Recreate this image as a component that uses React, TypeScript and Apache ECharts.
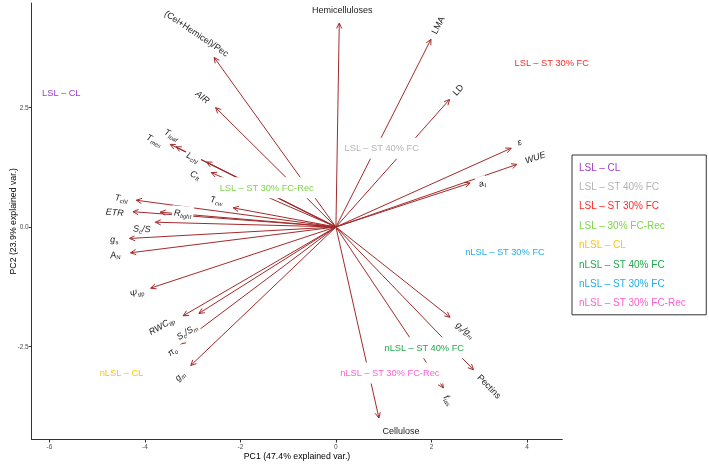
import React, { useEffect, useRef } from "react";
import * as echarts from "echarts";

const FONT = "'Liberation Sans', Arial, Helvetica, sans-serif";

// Variable loadings (arrow tips) in PC space
const VAR_NAMES = [
  "Hemicelluloses", "LMA", "LD", "ε", "WUE", "a_l", "g_s/g_m", "Pectins", "f_ias", "Cellulose",
  "g_m", "π_o", "S_c/S_m", "RWC_tlp", "Ψ_tlp", "A_N", "g_s", "S_c/S", "ETR", "R_light",
  "T_chl", "T_cw", "C_ft", "L_chl", "T_leaf", "T_mes", "AIR", "(Cel+Hemicel)/Pec",
];
const VAR_PC1 = [
  0.07, 1.99, 2.38, 3.67, 3.79, 2.81, 2.39, 2.88, 2.25, 0.90,
  -3.04, -3.26, -2.87, -3.20, -3.88, -4.30, -4.32, -3.78, -4.25, -3.68,
  -4.18, -2.15, -2.61, -2.71, -3.35, -3.47, -2.52, -2.55,
];
const VAR_PC2 = [
  4.27, 3.93, 2.67, 1.65, 1.31, 0.92, -1.89, -2.99, -3.37, -4.00,
  -2.90, -2.45, -1.81, -1.86, -1.28, -0.54, -0.24, 0.10, 0.32, 0.31,
  0.56, 0.40, 1.14, 1.36, 1.68, 1.73, 2.50, 3.55,
];

// Group centroids
const GROUP_LEGEND = [
  "LSL – CL", "LSL – ST 40% FC", "LSL – ST 30% FC", "LSL – 30% FC-Rec",
  "nLSL – CL", "nLSL – ST 40% FC", "nLSL – ST 30% FC", "nLSL – ST 30% FC-Rec",
];
const GROUP_LABELS = [
  "LSL – CL", "LSL – ST 40% FC", "LSL – ST 30% FC", "LSL – ST 30% FC-Rec",
  "nLSL – CL", "nLSL – ST 40% FC", "nLSL – ST 30% FC", "nLSL – ST 30% FC-Rec",
];
const GROUP_PC1 = [-5.75, 0.96, 4.52, -1.45, -4.49, 1.85, 3.54, 1.13];
const GROUP_PC2 = [2.80, 1.65, 3.44, 0.82, -3.05, -2.53, -0.53, -3.06];

const X_TICKS = [-6, -4, -2, 0, 2, 4];
const Y_TICKS = [-2.5, 0, 2.5];

// Styles
const GROUP_COLORS = [
  "#9B3FCB", "#B3B3B3", "#FF2A2A", "#7ED348",
  "#FFC20E", "#1FAA4B", "#22AEE8", "#FF5FD2",
];
const ARROW_COLOR = "#A32A2A";
const LABEL_COLOR = "#1a1a1a";

const RICH_TEXT: Record<string, string> = {
  "Hemicelluloses": "{u|Hemicelluloses}",
  "LMA": "{u|LMA}",
  "LD": "{u|LD}",
  "ε": "{i|ε}",
  "WUE": "{i|WUE}",
  "a_l": "{i|a}{s|l}",
  "g_s/g_m": "{i|g}{s|s}{i|/g}{s|m}",
  "Pectins": "{u|Pectins}",
  "f_ias": "{i|f}{s|ias}",
  "Cellulose": "{u|Cellulose}",
  "g_m": "{i|g}{s|m}",
  "π_o": "{i|π}{s|o}",
  "S_c/S_m": "{i|S}{s|c}{i|/S}{s|m}",
  "RWC_tlp": "{i|RWC}{s|tlp}",
  "Ψ_tlp": "{i|Ψ}{s|tlp}",
  "A_N": "{i|A}{s|N}",
  "g_s": "{i|g}{s|s}",
  "S_c/S": "{i|S}{s|c}{i|/S}",
  "ETR": "{i|ETR}",
  "R_light": "{i|R}{s|light}",
  "T_chl": "{i|T}{s|chl}",
  "T_cw": "{i|T}{s|cw}",
  "C_ft": "{i|C}{s|ft}",
  "L_chl": "{i|L}{s|chl}",
  "T_leaf": "{i|T}{s|leaf}",
  "T_mes": "{i|T}{s|mes}",
  "AIR": "{i|AIR}",
  "(Cel+Hemicel)/Pec": "{u|(Cel+Hemicel)/Pec}",
};

const RICH = {
  u: { fill: LABEL_COLOR, fontSize: 9, fontFamily: FONT, lineHeight: 12 },
  i: { fill: LABEL_COLOR, fontSize: 9, fontStyle: "italic", fontFamily: FONT, lineHeight: 12 },
  s: { fill: LABEL_COLOR, fontSize: 6, fontStyle: "italic", fontFamily: FONT, verticalAlign: "bottom" },
};

// Label placement: centre = tip pushed outward by LABEL_PUSH of its radius, plus pixel nudges
const LABEL_PUSH = 0.075;
const LABEL_NUDGE: Record<string, { dx: number; dy: number; rot?: number; abs?: boolean }> = {
  "Hemicelluloses": { dx: 3, dy: -12.7, rot: 0, abs: true },
  "Cellulose": { dx: 22, dy: 12.5, rot: 0, abs: true },
  "R_light": { dx: 22.6, dy: 1, abs: true },
  "ε": { dx: -5, dy: 0 },
  "WUE": { dx: 4.7, dy: -2.3 },
  "a_l": { dx: 1.7, dy: 3.6 },
  "g_s/g_m": { dx: 6.5, dy: 5.9 },
  "Pectins": { dx: 5.4, dy: 6 },
  "f_ias": { dx: -3, dy: 0 },
  "π_o": { dx: 3.6, dy: -1.4 },
  "S_c/S_m": { dx: -1.7, dy: 11.9 },
  "RWC_tlp": { dx: -10.1, dy: 3.3 },
  "S_c/S": { dx: 0, dy: 7 },
  "ETR": { dx: -3, dy: 1.7 },
  "T_cw": { dx: -8.9, dy: -6.3 },
  "C_ft": { dx: -6.7, dy: 6.4 },
  "L_chl": { dx: -4, dy: 0 },
  "T_leaf": { dx: 7.7, dy: -6.2 },
  "T_mes": { dx: -3.3, dy: 1.9 },
  "AIR": { dx: -4, dy: -1.6, rot: -38 },
  "(Cel+Hemicel)/Pec": { dx: -8.5, dy: -11.3, rot: -34 },
};

export default function App() {
  const ref = useRef<HTMLDivElement>(null);
  useEffect(() => {
    if (!ref.current) return;
    const chart = echarts.init(ref.current, undefined, { renderer: "svg" });
    const varData = VAR_PC1.map((x, i) => [x, VAR_PC2[i]]);
    const groupData = GROUP_PC1.map((x, k) => [x, GROUP_PC2[k]]);

    const arrowSeries: any = {
      type: "custom",
      name: "arrows",
      z: 2,
      silent: true,
      clip: false,
      data: varData,
      renderItem: (params: any, api: any) => {
        const tip = api.coord([api.value(0), api.value(1)]);
        const o = api.coord([0, 0]);
        const ang = Math.atan2(tip[1] - o[1], tip[0] - o[0]);
        const L = 6;
        const a = Math.PI / 7;
        const p1 = [tip[0] - L * Math.cos(ang - a), tip[1] - L * Math.sin(ang - a)];
        const p2 = [tip[0] - L * Math.cos(ang + a), tip[1] - L * Math.sin(ang + a)];
        return {
          type: "group",
          children: [
            { type: "line", shape: { x1: o[0], y1: o[1], x2: tip[0], y2: tip[1] }, style: { stroke: ARROW_COLOR, lineWidth: 1, fill: "none" } },
            { type: "polyline", shape: { points: [p1, tip, p2] }, style: { stroke: ARROW_COLOR, lineWidth: 1, fill: "none" } },
          ],
        };
      },
    };

    const labelSeries: any = {
      type: "custom",
      name: "varlabels",
      z: 3,
      silent: true,
      clip: false,
      data: varData,
      renderItem: (params: any, api: any) => {
        const i = params.dataIndex;
        const name = VAR_NAMES[i];
        const tip = api.coord([api.value(0), api.value(1)]);
        const o = api.coord([0, 0]);
        const dxp = tip[0] - o[0];
        const dyp = tip[1] - o[1];
        const baseRot = Math.atan(-dyp / dxp);
        const nd = LABEL_NUDGE[name];
        let px: number, py: number;
        if (nd && nd.abs) {
          px = tip[0] + nd.dx;
          py = tip[1] + nd.dy;
        } else {
          px = tip[0] + dxp * LABEL_PUSH + (nd ? nd.dx : 0);
          py = tip[1] + dyp * LABEL_PUSH + (nd ? nd.dy : 0);
        }
        const rot = nd && nd.rot !== undefined ? (nd.rot * Math.PI) / 180 : baseRot;
        return {
          type: "text",
          x: px,
          y: py,
          rotation: rot,
          style: {
            text: RICH_TEXT[name],
            rich: RICH,
            fill: LABEL_COLOR,
            fontSize: 9,
            fontFamily: FONT,
            align: "center",
            verticalAlign: "middle",
            backgroundColor: "#ffffff",
            padding: [1, 2],
          },
        };
      },
    };

    const groupLabelSeries: any = {
      type: "custom",
      name: "grouplabels",
      z: 5,
      silent: true,
      clip: false,
      data: groupData,
      renderItem: (params: any, api: any) => {
        const k = params.dataIndex;
        const p = api.coord([api.value(0), api.value(1)]);
        return {
          type: "text",
          x: p[0],
          y: p[1],
          style: {
            text: GROUP_LABELS[k],
            fill: GROUP_COLORS[k],
            fontSize: 9.3,
            fontFamily: FONT,
            align: "center",
            verticalAlign: "middle",
            backgroundColor: "#ffffff",
            padding: [6, 4],
          },
        };
      },
    };

    // invisible series carrying the legend entries
    const legendSeries: any[] = GROUP_LEGEND.map((name, k) => ({
      type: "scatter",
      name,
      z: 1,
      silent: true,
      symbolSize: 0,
      itemStyle: { color: GROUP_COLORS[k], opacity: 0 },
      data: [[GROUP_PC1[k], GROUP_PC2[k]]],
    }));

    chart.setOption({
      animation: false,
      grid: { left: 31.7, right: 146.7, top: 3, bottom: 25.5, containLabel: false, outerBoundsMode: "none" },
      xAxis: {
        type: "value",
        min: -6.37,
        max: 4.74,
        splitLine: { show: false },
        axisLine: { show: true, onZero: false, lineStyle: { color: "#333", width: 1 } },
        axisTick: { show: true, length: 3, lineStyle: { color: "#333" }, customValues: X_TICKS },
        axisLabel: { customValues: X_TICKS, fontSize: 6.5, color: "#4d4d4d", margin: 3, fontFamily: FONT },
        name: "PC1 (47.4% explained var.)",
        nameLocation: "middle",
        nameGap: 12,
        nameMoveOverlap: false,
        nameTextStyle: { fontSize: 8.75, color: "#000", fontFamily: FONT },
      },
      yAxis: {
        type: "value",
        min: -4.45,
        max: 4.69,
        splitLine: { show: false },
        axisLine: { show: true, onZero: false, lineStyle: { color: "#333", width: 1 } },
        axisTick: { show: true, length: 3, lineStyle: { color: "#333" }, customValues: Y_TICKS },
        axisLabel: {
          customValues: Y_TICKS,
          fontSize: 6.5,
          color: "#4d4d4d",
          margin: 3,
          fontFamily: FONT,
          formatter: (v: number) => v.toFixed(1),
        },
        name: "PC2 (23.9% explained var.)",
        nameLocation: "middle",
        nameGap: 14,
        nameMoveOverlap: false,
        nameTextStyle: { fontSize: 8.75, color: "#000", fontFamily: FONT },
      },
      legend: {
        orient: "vertical",
        left: 572,
        top: 155,
        icon: "rect",
        itemWidth: 0,
        itemHeight: 14,
        itemGap: 5.4,
        padding: [5, 20, 5, 2],
        borderColor: "#333",
        borderWidth: 1,
        selectedMode: false,
        itemStyle: { opacity: 0 },
        textStyle: { fontSize: 10, fontFamily: FONT },
        data: GROUP_LEGEND.map((n, k) => ({ name: n, textStyle: { color: GROUP_COLORS[k] } })),
      },
      series: [arrowSeries, labelSeries, groupLabelSeries, ...legendSeries],
    });
    return () => chart.dispose();
  }, []);
  return <div ref={ref} style={{ position: "fixed", left: 0, top: 0, width: 709, height: 465 }} />;
}
